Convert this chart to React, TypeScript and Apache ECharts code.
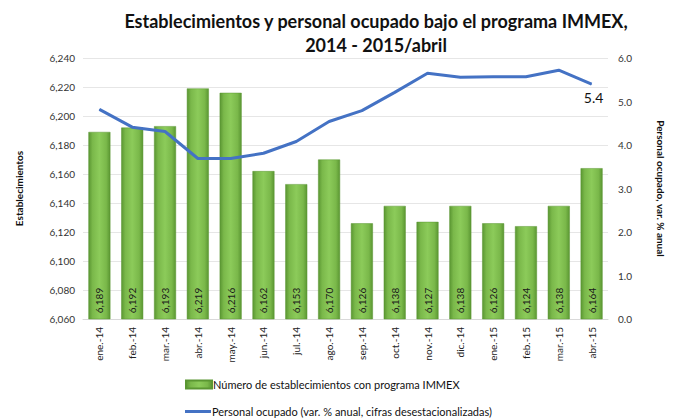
import React, { useEffect, useRef } from "react";
import * as echarts from "echarts";

const categories = [
  "ene.-14", "feb.-14", "mar.-14", "abr.-14", "may.-14", "jun.-14", "jul.-14", "ago.-14",
  "sep.-14", "oct.-14", "nov.-14", "dic.-14", "ene.-15", "feb.-15", "mar.-15", "abr.-15",
];
const establecimientos = [6189, 6192, 6193, 6219, 6216, 6162, 6153, 6170, 6126, 6138, 6127, 6138, 6126, 6124, 6138, 6164];
const personal = [4.82, 4.41, 4.31, 3.69, 3.69, 3.81, 4.08, 4.54, 4.79, 5.21, 5.65, 5.56, 5.57, 5.57, 5.72, 5.4];

const FONT = "Lato, 'Noto Sans', sans-serif";
const BAR_NAME = "Número de establecimientos con programa IMMEX";
const LINE_NAME = "Personal ocupado (var. % anual, cifras desestacionalizadas)";

export default function App() {
  const ref = useRef<HTMLDivElement>(null);
  useEffect(() => {
    if (!ref.current) return;
    const chart = echarts.init(ref.current, undefined, { renderer: "svg" });
    const barColor = new echarts.graphic.LinearGradient(0, 0, 1, 0, [
      { offset: 0, color: "#5a9632" },
      { offset: 0.18, color: "#7ab84a" },
      { offset: 0.5, color: "#8ccb5a" },
      { offset: 0.82, color: "#7ab84a" },
      { offset: 1, color: "#5a9632" },
    ]);
    const legendBase = {
      orient: "horizontal",
      left: 180,
      itemWidth: 26,
      itemHeight: 8,
      textStyle: { fontFamily: FONT, fontSize: 11, color: "#111", padding: [0, 0, 0, -4] },
    };
    const lastIdx = personal.length - 1;
    chart.setOption({
      animation: false,
      textStyle: { fontFamily: FONT },
      title: {
        text: "Establecimientos y personal ocupado bajo el programa IMMEX,\n2014 - 2015/abril",
        left: 371,
        top: 4,
        textAlign: "center",
        textStyle: { fontFamily: FONT, fontSize: 18, fontWeight: "bold", color: "#111", lineHeight: 24 },
      },
      grid: { left: 83, right: 64, top: 58, bottom: 99, containLabel: false },
      legend: [
        { ...legendBase, top: 374, data: [{ name: BAR_NAME, icon: "rect" }] },
        { ...legendBase, top: 401, data: [{ name: LINE_NAME, icon: "path://M0 0h26v3H0z" }] },
      ],
      xAxis: {
        type: "category",
        data: categories,
        axisTick: { show: false },
        axisLine: { lineStyle: { color: "#d9d9d9" } },
        axisLabel: { rotate: 90, fontFamily: FONT, fontSize: 10, color: "#222", margin: 8 },
      },
      yAxis: [
        {
          type: "value",
          min: 6060,
          max: 6240,
          interval: 20,
          name: "Establecimientos",
          nameLocation: "middle",
          nameGap: 59,
          nameTextStyle: { fontFamily: FONT, fontSize: 10, fontWeight: "bold", color: "#111" },
          axisLabel: {
            fontFamily: FONT,
            fontSize: 10,
            color: "#333",
            margin: 8,
            formatter: (v: number) => v.toLocaleString("en-US"),
          },
          splitLine: { lineStyle: { color: "#e6e6e6" } },
          axisLine: { show: false },
          axisTick: { show: false },
        },
        {
          type: "value",
          min: 0,
          max: 6,
          interval: 1,
          name: "Personal ocupado, var. % anual",
          nameLocation: "middle",
          nameGap: 48,
          nameRotate: -90,
          nameTextStyle: { fontFamily: FONT, fontSize: 10, fontWeight: "bold", color: "#111" },
          axisLabel: {
            fontFamily: FONT,
            fontSize: 10,
            color: "#333",
            margin: 10,
            formatter: (v: number) => v.toFixed(1),
          },
          splitLine: { show: false },
          axisLine: { show: false },
          axisTick: { show: false },
        },
      ],
      series: [
        {
          name: BAR_NAME,
          type: "bar",
          data: establecimientos,
          barWidth: "67%",
          itemStyle: { color: barColor, borderColor: "#5a9632", borderWidth: 0.5 },
          label: {
            show: true,
            position: "insideBottom",
            rotate: 90,
            align: "left",
            verticalAlign: "middle",
            distance: 6,
            fontFamily: FONT,
            fontSize: 10,
            color: "#1a1a1a",
            formatter: (p: any) => Number(p.value).toLocaleString("en-US"),
          },
        },
        {
          name: LINE_NAME,
          type: "line",
          yAxisIndex: 1,
          data: personal,
          showSymbol: true,
          symbol: "circle",
          symbolSize: 1,
          lineStyle: { color: "#4472c4", width: 3 },
          itemStyle: { color: "#4472c4" },
          label: {
            show: true,
            position: "bottom",
            distance: 6,
            offset: [2, 0],
            fontFamily: FONT,
            fontSize: 14,
            color: "#111",
            formatter: (p: any) => (p.dataIndex === lastIdx ? Number(p.value).toFixed(1) : ""),
          },
        },
      ],
    });
    return () => chart.dispose();
  }, []);
  return (
    <div
      ref={ref}
      style={{ position: "fixed", left: 0, top: 0, width: 674, height: 418, background: "#fff" }}
    />
  );
}
